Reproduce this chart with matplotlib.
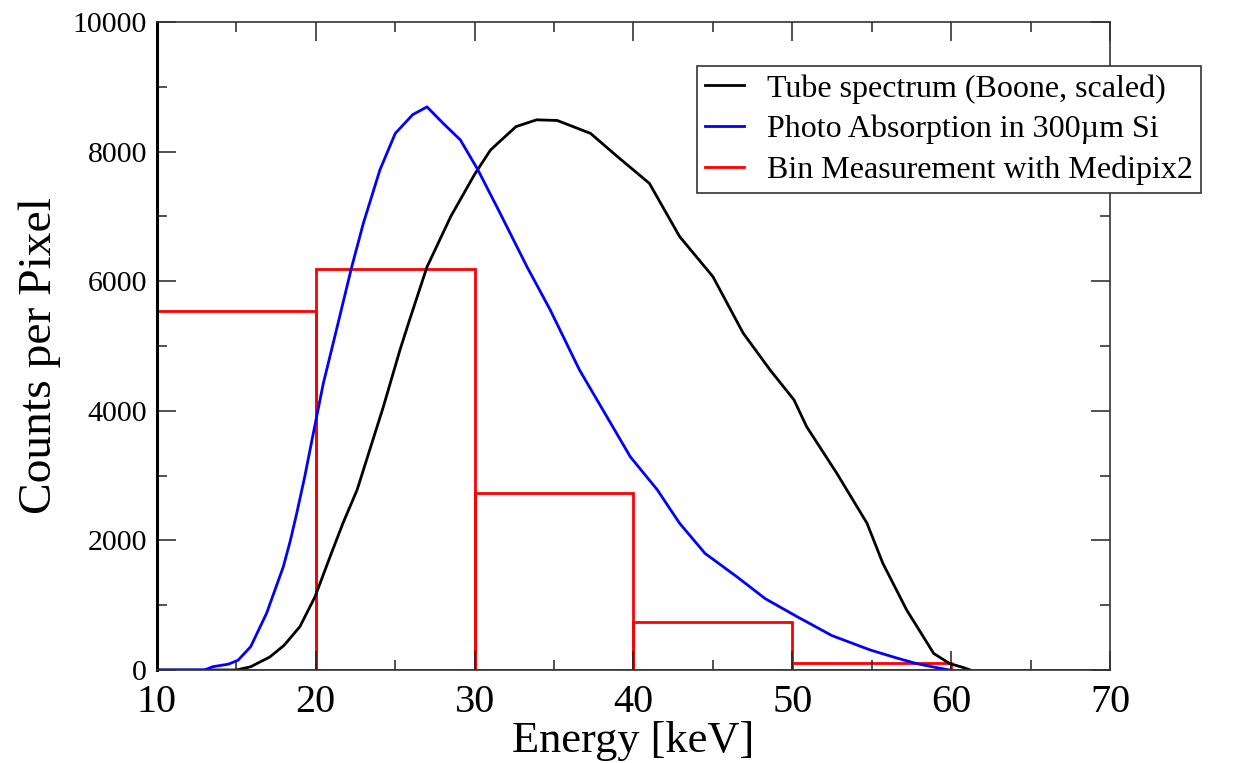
import numpy as np
import matplotlib; matplotlib.use('Agg')
import matplotlib.pyplot as plt
from matplotlib.ticker import MultipleLocator

plt.rcParams['font.family'] = ['Liberation Serif', 'DejaVu Serif']

# tube spectrum (Boone, scaled)
tube_e = [10.0, 15.0, 15.9, 17.1, 18.0, 19.0, 19.95, 20.9, 21.7, 22.6, 23.4, 24.25, 25.3,
          25.9, 27.0, 28.5, 30.0, 31.0, 32.6, 33.9, 35.2, 37.3, 39.0, 41.0, 42.9, 45.0,
          46.9, 48.6, 50.1, 50.9, 52.8, 54.7, 55.7, 57.2, 58.9, 59.9, 60.8, 61.2]
tube_c = [0, 0, 50, 200, 380, 670, 1130, 1750, 2260, 2780, 3400, 4060, 4940,
          5400, 6220, 7000, 7650, 8025, 8385, 8490, 8480, 8280, 7920, 7510, 6690, 6070,
          5200, 4630, 4170, 3755, 3035, 2265, 1645, 925, 255, 100, 35, 0]

# photo absorption in 300um Si
abs_e = [10.0, 13.0, 13.5, 14.5, 15.1, 15.9, 16.9, 17.95, 18.4, 18.8, 19.3, 19.8, 20.47,
         21.3, 22.26, 23.0, 24.04, 25.0, 26.1, 27.0, 28.0, 29.1, 30.2, 31.6, 33.3, 34.75,
         36.6, 37.7, 39.8, 41.5, 42.9, 44.5, 46.5, 48.3, 50.3, 52.5, 54.9, 56.5, 57.8,
         59.0, 59.9]
abs_c = [0, 0, 50, 90, 150, 360, 875, 1590, 2000, 2420, 2980, 3600, 4420,
         5250, 6220, 6900, 7720, 8280, 8570, 8690, 8440, 8180, 7720, 7050, 6220, 5560,
         4630, 4170, 3290, 2780, 2265, 1800, 1440, 1100, 823, 530, 309, 190, 100,
         40, 0]

# Medipix2 bins (lower edge, counts)
bin_lo = [10, 20, 30, 40, 50, 60]
bin_c = [5540, 6195, 2736, 736, 103, 0]

fig = plt.figure(figsize=(12.35, 7.63), dpi=100)
ax = fig.add_axes([0.1271, 0.1219, 0.7717, 0.8493])

ax.plot(tube_e, tube_c, color='black', lw=2, label='Tube spectrum (Boone, scaled)')
ax.plot(abs_e, abs_c, color='blue', lw=2, label='Photo Absorption in 300µm Si')
ax.bar(bin_lo, bin_c, width=10, align='edge', fill=False, edgecolor='red', lw=2)
ax.plot([], [], color='red', lw=2, label='Bin Measurement with Medipix2')

ax.set_xlim(10, 70); ax.set_ylim(0, 10000)
ax.xaxis.set_major_locator(MultipleLocator(10)); ax.xaxis.set_minor_locator(MultipleLocator(5))
ax.yaxis.set_major_locator(MultipleLocator(2000)); ax.yaxis.set_minor_locator(MultipleLocator(1000))
ax.tick_params(which='both', direction='in', top=True, right=True, width=1.1, color='#222222')
ax.tick_params(which='major', length=13.5)
ax.tick_params(which='minor', length=7)
ax.tick_params(axis='x', labelsize=29, pad=10)
ax.tick_params(axis='y', labelsize=21.5, pad=7)
for s in ax.spines.values():
    s.set_linewidth(1.2); s.set_color('#333333')
ax.spines['left'].set_linewidth(2.2); ax.spines['left'].set_color('black')

ax.set_xlabel('Energy [keV]', fontsize=32, labelpad=0)
ax.set_ylabel('Counts per Pixel', fontsize=34.2)
ax.yaxis.set_label_coords(-0.1005, 0.4846)

leg = ax.legend(loc='upper right', bbox_to_anchor=(1.0955, 0.932), fontsize=23,
                fancybox=False, framealpha=1, edgecolor='#333333', borderpad=0.25,
                handlelength=1.22, handletextpad=0.72, labelspacing=0.35, borderaxespad=0)
leg.get_frame().set_linewidth(1.2)

fig.savefig('out.png', dpi=100)
